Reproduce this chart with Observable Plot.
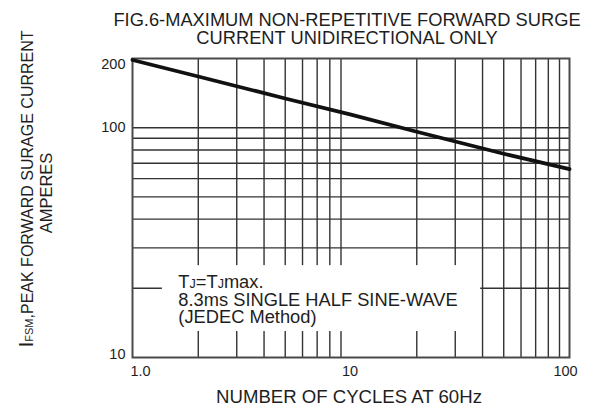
<!DOCTYPE html>
<html><head><meta charset="utf-8">
<script src="https://cdn.jsdelivr.net/npm/d3@7"></script>
<script src="https://cdn.jsdelivr.net/npm/@observablehq/plot@0.6"></script>
<style>
body{margin:0;background:#fff;}
#chart{position:relative;width:605px;height:408px;}
</style></head><body><div id="chart"></div>
<script>
// ---- data ----
const cycles = [1, 2, 5, 10, 20, 50, 100];
const ifsm = [197, 167, 134, 114, 96, 77, 66];
const xGrid = [2, 3, 4, 5, 6, 7, 8, 9, 20, 30, 40, 50, 60, 70, 80, 90];
const yGrid = [20, 30, 40, 50, 60, 70, 80, 90, 100];
const xTicks = [1, 10, 100];
const xTickLabels = ["1.0", "10", "100"];
const yTicks = [10, 100, 200];
const yTickLabels = ["10", "100", "200"];
const titleLines = ["FIG.6-MAXIMUM NON-REPETITIVE FORWARD SURGE", "CURRENT UNIDIRECTIONAL ONLY"];
const xLabel = "NUMBER OF CYCLES AT 60Hz";
const yLabelMain = ",PEAK FORWARD SURAGE CURRENT";
const yLabel2 = "AMPERES";
const noteLine2 = "8.3ms SINGLE HALF SINE-WAVE";
const noteLine3 = "(JEDEC Method)";
const noteBox = [{x1: 1.37, x2: 39.2, y1: 12.97, y2: 25.1}];
const noteAnchor = {x: 1.63, y: 20};

const font = '"Liberation Sans", Arial, Helvetica, sans-serif';
const ink = "#1e1e1e";
const data = cycles.map((c, i) => ({c, v: ifsm[i]}));
const xfmt = d => xTickLabels[xTicks.indexOf(d)];
const yfmt = d => yTickLabels[yTicks.indexOf(d)];
const axisStyle = {tickSize: 0, label: null, fontSize: 14.5, fill: ink};

const chart = Plot.plot({
  width: 605, height: 408,
  marginLeft: 132, marginRight: 36, marginTop: 58, marginBottom: 51,
  style: {fontFamily: font, fontSize: "14.5px", color: ink, background: "#fff"},
  x: {type: "log", domain: [1, 100]},
  y: {type: "log", domain: [10, 200]},
  marks: [
    Plot.ruleX(xGrid, {stroke: "#333", strokeWidth: 1.4}),
    Plot.ruleY(yGrid, {stroke: "#333", strokeWidth: 1.4}),
    Plot.rect(noteBox, {x1: "x1", x2: "x2", y1: "y1", y2: "y2", fill: "#fff"}),
    Plot.frame({stroke: "#4a4a4a", strokeWidth: 2}),
    Plot.line(data, {x: "c", y: "v", stroke: "#111", strokeWidth: 3.8}),
    Plot.axisX([xTicks[0]], {...axisStyle, tickFormat: xfmt, tickPadding: 8, dx: 8}),
    Plot.axisX([xTicks[1]], {...axisStyle, tickFormat: xfmt, tickPadding: 8, dx: -1}),
    Plot.axisX([xTicks[2]], {...axisStyle, tickFormat: xfmt, tickPadding: 8, dx: -4}),
    Plot.axisY([yTicks[0]], {...axisStyle, tickFormat: yfmt, tickPadding: 7, dy: -3}),
    Plot.axisY([yTicks[1]], {...axisStyle, tickFormat: yfmt, tickPadding: 7}),
    Plot.axisY([yTicks[2]], {...axisStyle, tickFormat: yfmt, tickPadding: 7, dy: 6})
  ]
});
document.getElementById("chart").appendChild(chart);

const svg = d3.select(chart);
const sx = chart.scale("x"), sy = chart.scale("y");
const g = svg.append("g").attr("font-family", font).attr("fill", ink).attr("text-anchor", "start");

// title
g.append("text").attr("x", 347).attr("y", 26).attr("text-anchor", "middle")
  .attr("font-size", 18.3).text(titleLines[0]);
g.append("text").attr("x", 347).attr("y", 43.5).attr("text-anchor", "middle")
  .attr("font-size", 18.3).text(titleLines[1]);

// x label
g.append("text").attr("x", 349).attr("y", 403).attr("text-anchor", "middle")
  .attr("font-size", 18.6).text(xLabel);

// y label (rotated)
const yl = g.append("text").attr("text-anchor", "middle")
  .attr("transform", "translate(33,189) rotate(-90)").attr("font-size", 16);
yl.append("tspan").attr("font-size", 21).text("I");
yl.append("tspan").attr("font-size", 11).text("FSM");
yl.append("tspan").text(yLabelMain);
g.append("text").attr("text-anchor", "middle")
  .attr("transform", "translate(52,193) rotate(-90)").attr("font-size", 16.5).text(yLabel2);

// note
const nx = sx.apply(noteAnchor.x), ny = sy.apply(noteAnchor.y);
const n1 = g.append("text").attr("x", nx).attr("y", ny).attr("font-size", 18.3);
n1.append("tspan").text("T");
n1.append("tspan").attr("font-size", 12.5).text("J");
n1.append("tspan").text("=T");
n1.append("tspan").attr("font-size", 12.5).text("J");
n1.append("tspan").text("max.");
g.append("text").attr("x", nx).attr("y", ny + 17.7).attr("font-size", 18.3).text(noteLine2);
g.append("text").attr("x", nx).attr("y", ny + 35.4).attr("font-size", 18.3).text(noteLine3);
</script>
</body></html>
